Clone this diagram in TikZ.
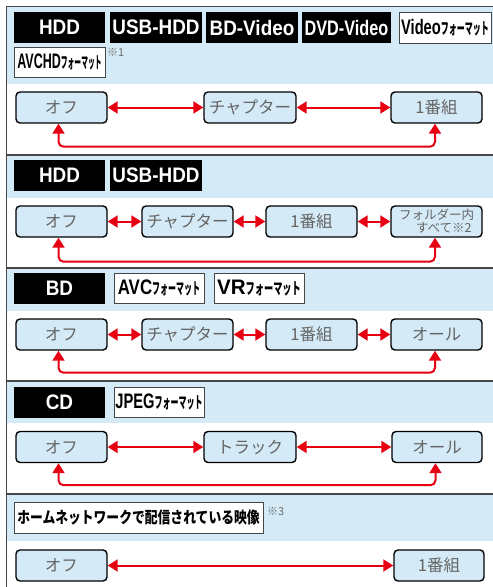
\documentclass[tikz,border=0pt]{standalone}
\usepackage{fontspec}
\setmainfont{Liberation Sans}
\newfontfamily\jpfont{Noto Sans CJK JP}
\newfontfamily\jpcond{Noto Sans CJK JP}[FakeStretch=0.5]
\newfontfamily\jpbold{Noto Sans CJK JP}[FakeStretch=0.8]
\newfontfamily\medfont{Liberation Sans}[FakeStretch=0.9]
\newfontfamily\fmtfont{Liberation Sans}[FakeStretch=0.7]
\usetikzlibrary{arrows.meta}

\definecolor{bandblue}{RGB}{213,234,247}
\definecolor{modegray}{RGB}{100,100,100}
\definecolor{rulegray}{RGB}{70,70,70}
\definecolor{arrowred}{RGB}{230,0,18}
\definecolor{notegray}{RGB}{110,110,110}

\newcommand\fmtword{{\jpcond\bfseries\fontsize{16}{16}\selectfont フォーマット}}

\tikzset{
  band/.style={fill=bandblue, draw=none},
  rule/.style={draw=rulegray, line width=2pt},
  media/.style={fill=black, text=white, inner sep=0pt, minimum width=91pt, minimum height=31pt,
    font=\medfont\bfseries\fontsize{21}{21}\selectfont},
  fmtbox/.style={draw=rulegray, line width=0.8pt, fill=white, inner sep=0pt, minimum width=90pt,
    minimum height=30pt, font=\fmtfont\bfseries\fontsize{21}{21}\selectfont},
  mode/.style={draw=black, line width=1.4pt, rounded corners=4pt, fill=bandblue, text=modegray,
    inner sep=0pt, minimum width=91pt, minimum height=31pt, font=\jpfont\fontsize{16.5}{16.5}\selectfont},
  note/.style={anchor=west, inner sep=0pt, text=notegray, font=\jpfont\fontsize{11}{11}\selectfont},
  swap/.style={draw=arrowred, line width=2pt, {Triangle[length=10pt,width=12pt]}-{Triangle[length=10pt,width=12pt]}},
  back/.style={swap, rounded corners=5pt}
}

\begin{document}
\begin{tikzpicture}[x=1pt, y=-1pt]
        \useasboundingbox (0,0) rectangle (493,587);
        % ==== BANDS AND RULES ====
        \fill[band] (7,7) rectangle (493,84);
        \fill[band] (7,155) rectangle (493,198);
        \fill[band] (7,268) rectangle (493,311);
        \fill[band] (7,381) rectangle (493,423);
        \fill[band] (7,494) rectangle (493,541);
        \draw[rulegray, line width=1.2pt] (6.5,587) -- (6.5,6.5) -- (493,6.5);
        \draw[rule] (6,154.5) -- (493,154.5);
        \draw[rule] (6,267.5) -- (493,267.5);
        \draw[rule] (6,380.5) -- (493,380.5);
        \draw[rule] (6,493.5) -- (493,493.5);

        % ==== HDD / USB-HDD / BD-Video / DVD-Video ====
        \node[media] (hdd1) at (59.5,27.5) {HDD};
        \node[media, minimum width=92pt] (usb1) at (156,27.5) {USB-HDD};
        \node[media, minimum width=92pt] (bdv1) at (252,27.5) {BD-Video};
        \node[media, minimum width=89pt] (dvd1) at (346.5,27.5) {\scalebox{0.86}[1]{DVD-Video}};
        \node[fmtbox, minimum width=92pt, minimum height=31pt] (vfmt1) at (445,27.5) {Video\fmtword};
        \node[fmtbox, minimum width=91pt] (avchd1) at (59.5,62) {\scalebox{0.85}[1]{AVCHD}\scalebox{0.85}[1]{\fmtword}};
        \node[note] (note1) at (107,52) {※1};
        \node[mode] (off1) at (61.5,107.5) {オフ};
        \node[mode, minimum width=92pt] (chap1) at (250,107.5) {チャプター};
        \node[mode] (prog1) at (436.5,107.5) {1番組};
        \draw[swap] (off1) -- (chap1);
        \draw[swap] (chap1) -- (prog1);
        \draw[back] ([xshift=-3pt]off1.south) -- ++(0,23) -| ([xshift=-1.5pt]prog1.south);

        % ==== HDD / USB-HDD ====
        \node[media] (hdd2) at (59.5,175.5) {HDD};
        \node[media, minimum width=92pt] (usb2) at (156,175.5) {USB-HDD};
        \node[mode] (off2) at (61.5,221.5) {オフ};
        \node[mode] (chap2) at (187.5,221.5) {チャプター};
        \node[mode] (prog2) at (311.5,221.5) {1番組};
        \node[mode, align=left, font=\jpfont\fontsize{12.5}{13}\selectfont] (all2) at (436.5,221.5)
            {フォルダー内\\\hspace*{17pt}すべて※2};
        \draw[swap] (off2) -- (chap2);
        \draw[swap] (chap2) -- (prog2);
        \draw[swap] (prog2) -- (all2);
        \draw[back] ([xshift=-3pt]off2.south) -- ++(0,24) -| ([xshift=-1.5pt]all2.south);

        % ==== BD ====
        \node[media] (bd3) at (59.5,288) {BD};
        \node[fmtbox] (avc3) at (159,288) {\scalebox{1.15}[1]{AVC}\fmtword};
        \node[fmtbox] (vr3) at (259,288) {\scalebox{1.4}[1]{VR}\scalebox{1.15}[1]{\fmtword}};
        \node[mode] (off3) at (61.5,334.5) {オフ};
        \node[mode] (chap3) at (187.5,334.5) {チャプター};
        \node[mode] (prog3) at (311.5,334.5) {1番組};
        \node[mode] (all3) at (436.5,334.5) {オール};
        \draw[swap] (off3) -- (chap3);
        \draw[swap] (chap3) -- (prog3);
        \draw[swap] (prog3) -- (all3);
        \draw[back] ([xshift=-3pt]off3.south) -- ++(0,22) -| ([xshift=-1.5pt]all3.south);

        % ==== CD ====
        \node[media] (cd4) at (59.5,402) {CD};
        \node[fmtbox] (jpeg4) at (159,402) {JPEG\fmtword};
        \node[mode] (off4) at (61.5,447) {オフ};
        \node[mode, minimum width=92pt] (track4) at (250,447) {トラック};
        \node[mode, minimum width=90pt] (all4) at (437,447) {オール};
        \draw[swap] (off4) -- (track4);
        \draw[swap] (track4) -- (all4);
        \draw[back] ([xshift=-3pt]off4.south) -- ++(0,22) -| ([xshift=-1.5pt]all4.south);

        % ==== HOME NETWORK ====
        \node[fmtbox, minimum width=249pt, minimum height=31pt, font=\jpbold\bfseries\fontsize{16}{16}\selectfont]
            (home5) at (138.5,517.5) {ホームネットワークで配信されている映像};
        \node[note] (note3) at (267,511) {※3};
        \node[mode] (off5) at (61.5,565.5) {オフ};
        \node[mode, minimum width=90pt] (prog5) at (439,565.5) {1番組};
        \draw[swap] (off5) -- (prog5);
\end{tikzpicture}
\end{document}
